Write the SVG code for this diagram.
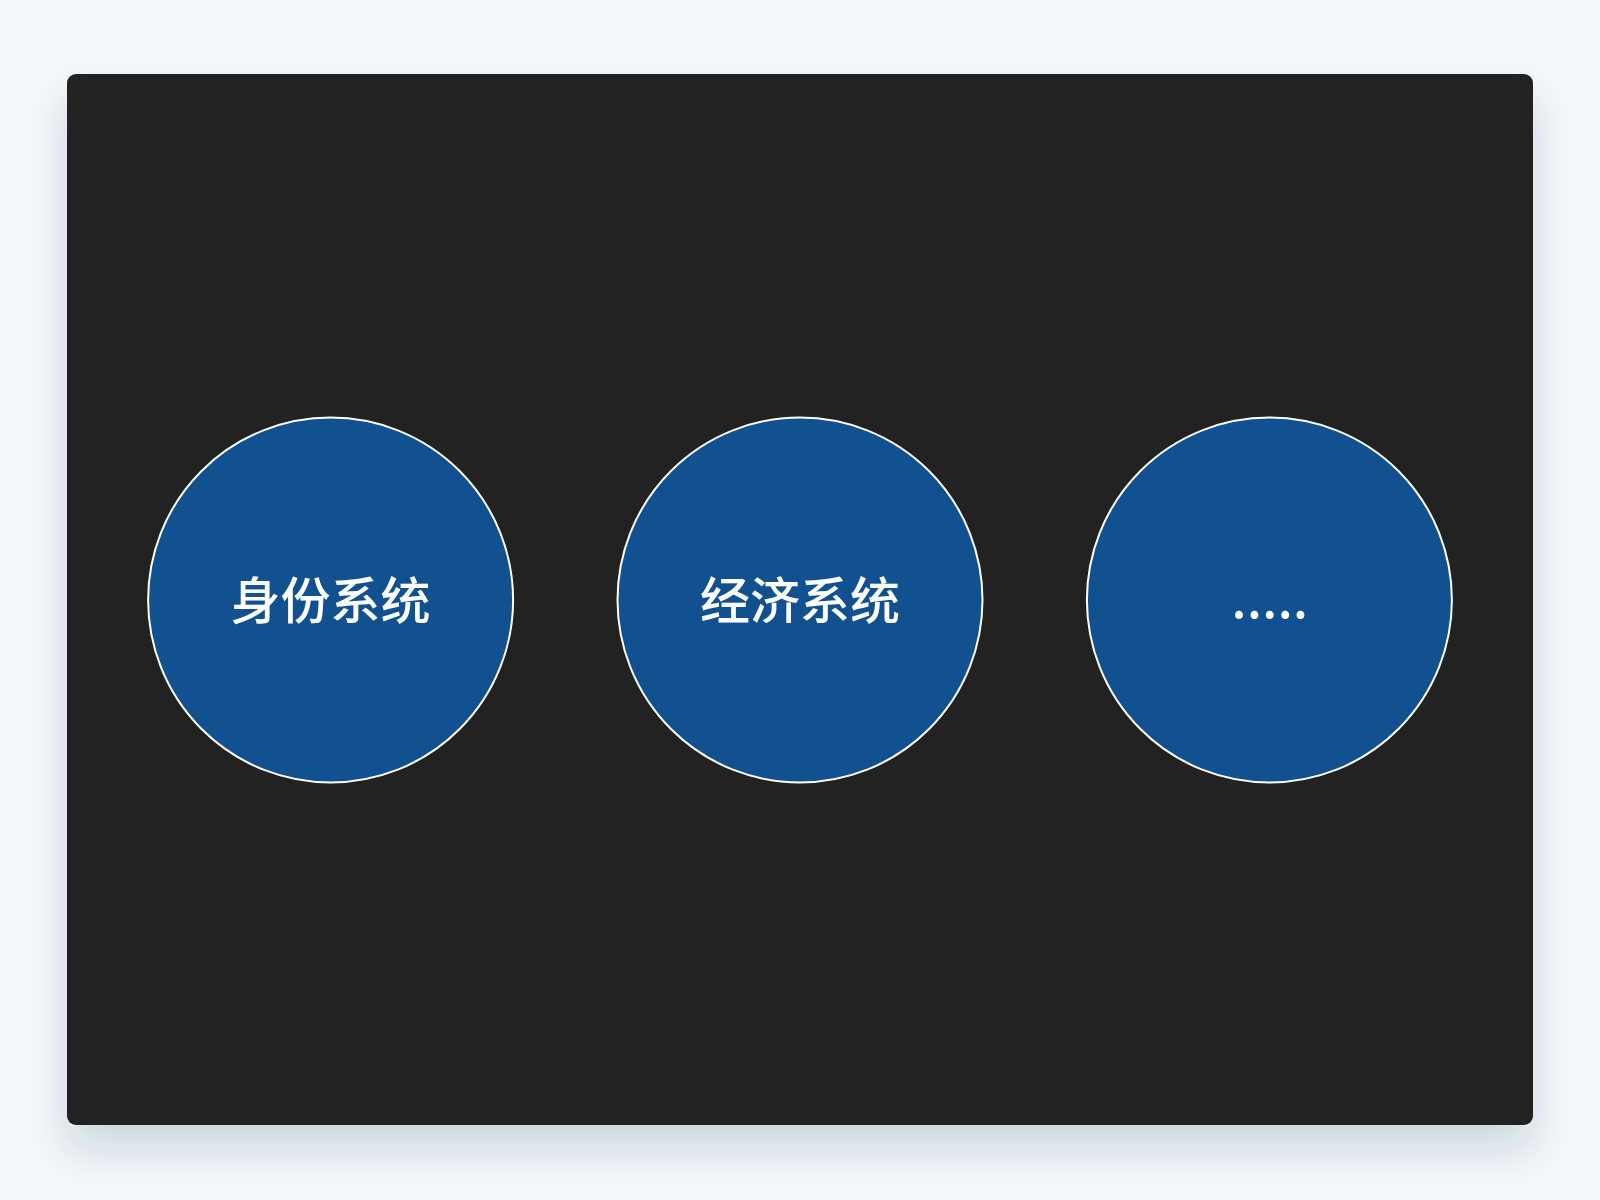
<svg xmlns="http://www.w3.org/2000/svg" width="1600" height="1200" viewBox="0 0 1600 1200">
<defs>
<filter id="shadow" x="-10%" y="-10%" width="120%" height="130%">
<feDropShadow dx="0" dy="24" stdDeviation="20" flood-color="#1e2a3a" flood-opacity="0.16"/>
</filter>
<style>
.node circle{fill:#11518f;stroke:#ffffff;stroke-width:2}
.node text{fill:#ffffff;font-family:"Noto Sans CJK SC","Noto Sans",sans-serif;font-size:50px;font-weight:500;text-anchor:middle;dominant-baseline:central}
</style>
</defs>
<rect x="0" y="0" width="1600" height="1200" fill="#f4f8fb"/>
<rect x="67" y="74" width="1466" height="1051" rx="9" fill="#222222" filter="url(#shadow)"/>
<g id="connectors"/>
<g id="node-identity" class="node">
<circle cx="330.6" cy="600" r="182.5"/>
<text x="330.6" y="597">身份系统</text>
</g>
<g id="node-economy" class="node">
<circle cx="800" cy="600" r="182.5"/>
<text x="800" y="597">经济系统</text>
</g>
<g id="node-more" class="node">
<circle cx="1269.4" cy="600" r="182.5"/>
<text x="1270" y="596" letter-spacing="0.5">.....</text>
</g>
</svg>
